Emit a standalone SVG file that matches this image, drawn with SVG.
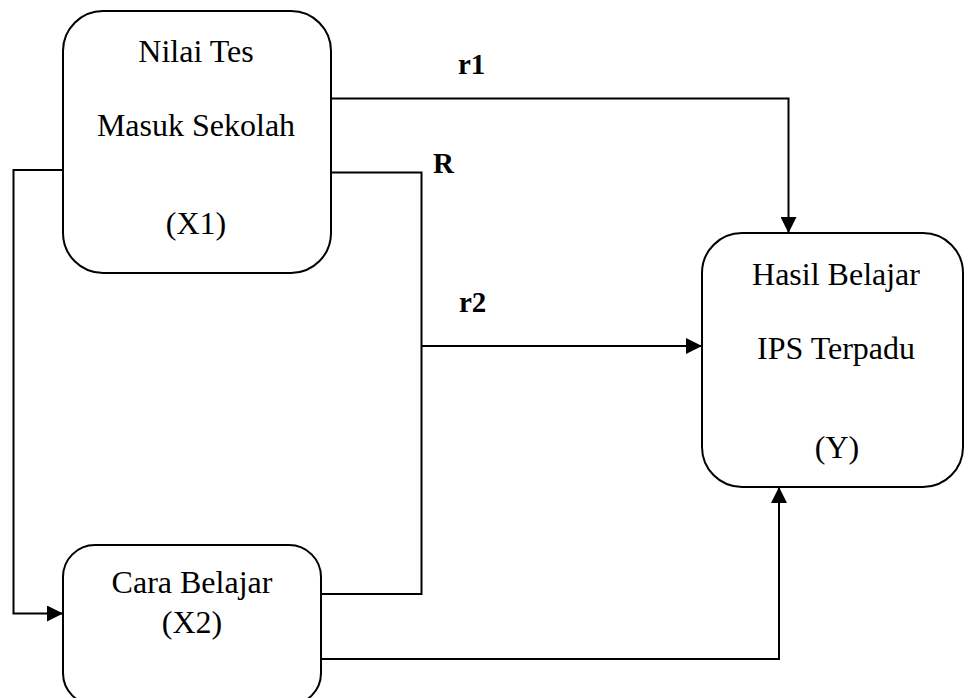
<svg xmlns="http://www.w3.org/2000/svg" width="965" height="698" viewBox="0 0 965 698">
<style>
.box{fill:#fff;stroke:#000;stroke-width:2}
.t{font-size:32px;fill:#000;text-anchor:middle}
.lb{font-size:29px;font-weight:bold;fill:#000}
.c{fill:none;stroke:#000;stroke-width:2}
</style>
<defs>
<marker id="ah" markerWidth="16" markerHeight="16" viewBox="0 0 16 16" refX="16" refY="8" orient="auto" markerUnits="userSpaceOnUse">
<path d="M0,0 L16,8 L0,16 Z" fill="#000"/>
</marker>
</defs>
<rect width="965" height="698" fill="#fff"/>
<g font-family="'Liberation Serif', 'Times New Roman', 'DejaVu Serif', serif">
<g id="connectors">
<polyline class="c" points="331,98.5 788.5,98.5 788.5,233" marker-end="url(#ah)"/>
<polyline class="c" points="331,172.5 421.5,172.5 421.5,594 321,594"/>
<line class="c" x1="421.5" y1="346" x2="702" y2="346" marker-end="url(#ah)"/>
<polyline class="c" points="63,170 13.5,170 13.5,613.5 63,613.5" marker-end="url(#ah)"/>
<polyline class="c" points="321,659 779,659 779,487" marker-end="url(#ah)"/>
<text class="lb" x="458" y="74">r1</text>
<text class="lb" x="433" y="173">R</text>
<text class="lb" x="459" y="312">r2</text>
</g>
<g id="x1">
<rect class="box" x="63" y="11" width="268" height="262" rx="40" ry="40"/>
<text class="t" x="196" y="62">Nilai Tes</text>
<text class="t" x="196" y="136">Masuk Sekolah</text>
<text class="t" x="196" y="234">(X1)</text>
</g>
<g id="x2">
<rect class="box" x="63" y="545" width="258" height="160" rx="32" ry="32"/>
<text class="t" x="192" y="593">Cara Belajar</text>
<text class="t" x="192" y="633">(X2)</text>
</g>
<g id="y">
<rect class="box" x="702" y="233" width="261" height="254" rx="40" ry="40"/>
<text class="t" x="836" y="285">Hasil Belajar</text>
<text class="t" x="836" y="359">IPS Terpadu</text>
<text class="t" x="837" y="458">(Y)</text>
</g>
</g>
</svg>
